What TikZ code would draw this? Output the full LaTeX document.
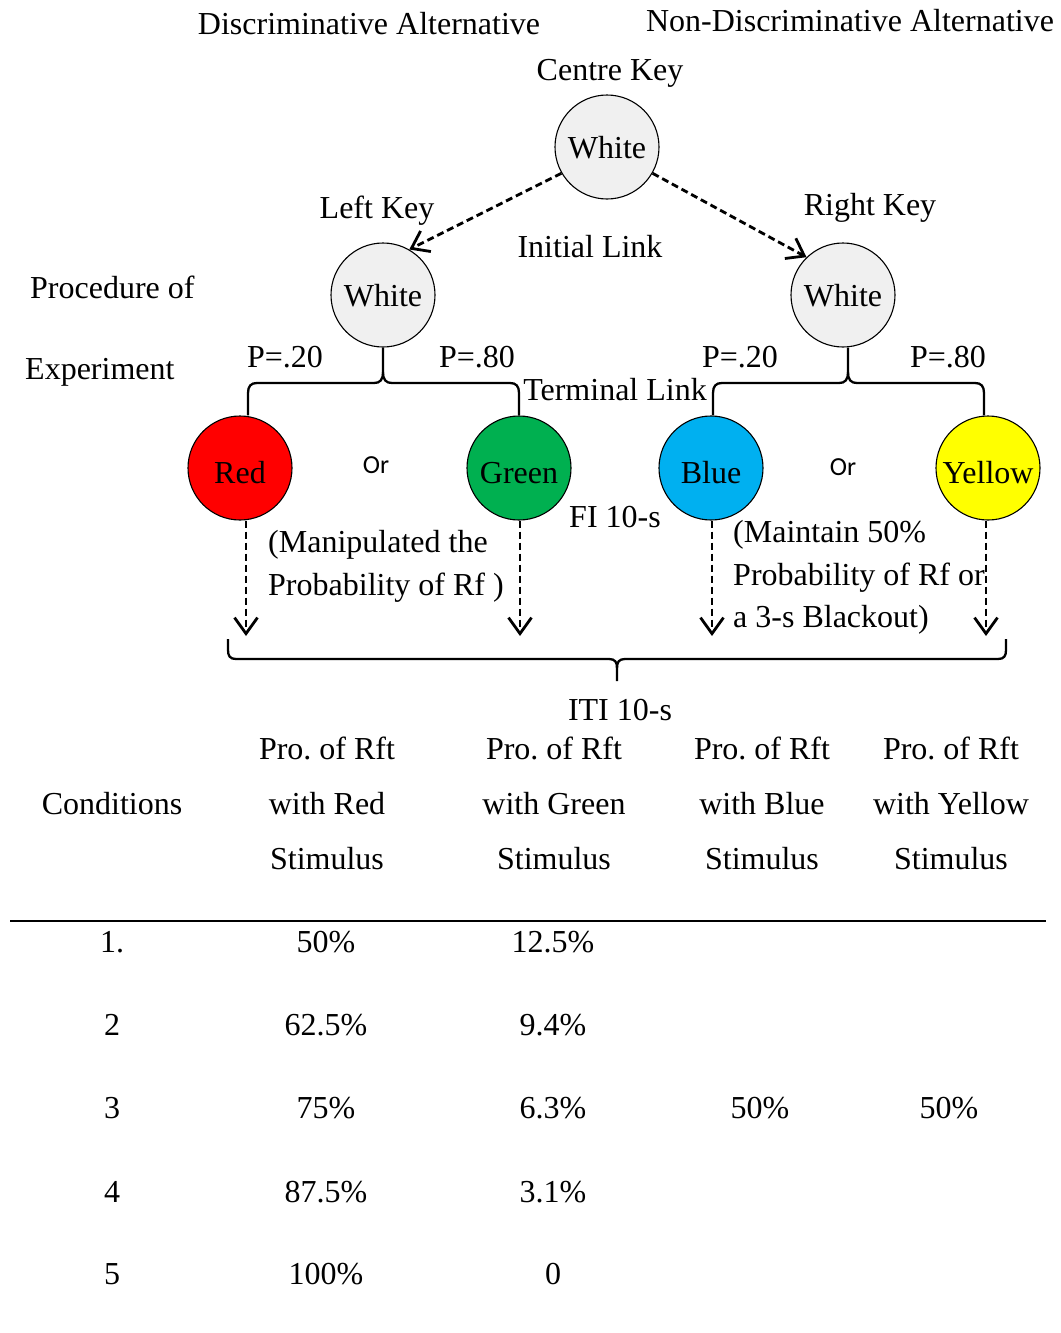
\documentclass[tikz,border=0pt]{standalone}
\usepackage{fontspec}
\setmainfont{Liberation Serif}
\newfontfamily\orfont{Carlito}
\usetikzlibrary{arrows.meta}
\definecolor{keygray}{HTML}{F0F0F0}
\definecolor{kred}{HTML}{FF0000}
\definecolor{kgreen}{HTML}{00B050}
\definecolor{kblue}{HTML}{00B0F0}
\definecolor{kyellow}{HTML}{FFFF00}
\frenchspacing
\begin{document}
\begin{tikzpicture}[x=1pt,y=-1pt,
  every node/.style={font=\fontsize{32}{38}\selectfont},
  lbl/.style={inner sep=0pt, anchor=base},
  lblw/.style={inner sep=0pt, anchor=base west},
  orlbl/.style={inner sep=0pt, anchor=base, font=\orfont\fontsize{26}{30}\selectfont},
  whitekey/.style={circle, draw, line width=1.1pt, fill=keygray, minimum size=104pt, inner sep=0pt, text height=23pt, text depth=0pt},
  colkey/.style={circle, draw, line width=1.1pt, minimum size=104pt, inner sep=0pt, text height=30pt, text depth=0pt},
  dasharrow/.style={line width=2.8pt, dash pattern=on 7pt off 4pt, -{Straight Barb[length=16pt,width=23pt,line width=2.8pt]}},
  bracel/.style={line width=2.3pt}
]
\useasboundingbox (0,0) rectangle (1060,1333);

% headings
\node[lbl] (hdisc) at (369,34) {Discriminative Alternative};
\node[lbl] (hnon) at (850,31) {Non-Discriminative Alternative};
\node[lbl] (hcentre) at (610,80) {Centre Key};
\node[lbl] (hleft) at (377,218) {Left Key};
\node[lbl] (hright) at (870,215) {Right Key};
\node[lbl] (hinit) at (590,257) {Initial Link};
\node[lblw] (hproc) at (30,298) {Procedure of};
\node[lblw] (hexp) at (25,379) {Experiment};
\node[lbl] (p1) at (285,367) {P=.20};
\node[lbl] (p2) at (477,367) {P=.80};
\node[lbl] (p3) at (740,367) {P=.20};
\node[lbl] (p4) at (948,367) {P=.80};
\node[lbl] (hterm) at (615,400) {Terminal Link};
\node[lbl] (hfi) at (615,527) {FI 10-s};
\node[orlbl] (or1) at (376,473) {Or};
\node[orlbl] (or2) at (843,475) {Or};

% keys
\node[whitekey] (cw) at (607,147) {White};
\node[whitekey] (lw) at (383,295) {White};
\node[whitekey] (rw) at (843,295) {White};
\node[colkey, fill=kred] (red) at (240,468) {Red};
\node[colkey, fill=kgreen] (green) at (519,468) {Green};
\node[colkey, fill=kblue] (blue) at (711,468) {Blue};
\node[colkey, fill=kyellow] (yellow) at (988,468) {Yellow};

% initial link arrows
\draw[dasharrow] (cw.210) -- (lw.60);
\draw[dasharrow] (cw.330) -- (rw.134);

% terminal link braces
\draw[bracel] (lw.south) -- (383,372) .. controls (383,380) and (380,383) .. (374,383)
  -- (257,383) .. controls (251,383) and (248,386) .. (248,393) -- (248,0 |- red.north);
\draw[bracel] (383,372) .. controls (383,380) and (386,383) .. (392,383)
  -- (510,383) .. controls (516,383) and (519,386) .. (519,393) -- (green.north);
\draw[bracel] (848,0 |- rw.south) -- (848,372) .. controls (848,380) and (845,383) .. (839,383)
  -- (722,383) .. controls (716,383) and (713,386) .. (713,393) -- (713,0 |- blue.north);
\draw[bracel] (848,372) .. controls (848,380) and (851,383) .. (857,383)
  -- (975,383) .. controls (981,383) and (984,386) .. (984,393) -- (984,0 |- yellow.north);

% notes
\node[lblw] (nm1) at (268,552) {(Manipulated the};
\node[lblw] (nm2) at (268,595) {Probability of Rf )};
\node[lblw] (nn1) at (733,542) {(Maintain 50\%};
\node[lblw] (nn2) at (733,585) {Probability of Rf or};
\node[lblw] (nn3) at (733,627) {a 3-s Blackout)};

% outcome arrows
\coordinate (ared) at (246,636);
\coordinate (agreen) at (520,636);
\coordinate (ablue) at (712,636);
\coordinate (ayellow) at (986,636);
\draw[dasharrow] (ared |- red.south) -- (ared);
\draw[dasharrow] (agreen |- green.south) -- (agreen);
\draw[dasharrow] (ablue |- blue.south) -- (ablue);
\draw[dasharrow] (ayellow |- yellow.south) -- (ayellow);

% ITI brace
\coordinate (itip) at (617,681);
\draw[bracel] (228,639) -- (228,650) .. controls (228,656) and (230,659) .. (236,659)
  -- (609,659) .. controls (615,659) and (617,662) .. (617,668) -- (itip);
\draw[bracel] (617,668) .. controls (617,662) and (619,659) .. (625,659)
  -- (998,659) .. controls (1004,659) and (1006,656) .. (1006,650) -- (1006,639);
\node[lbl] (iti) at (620,720) {ITI 10-s};

% table header
\node[lbl] (cond) at (112,814) {Conditions};
\node[lbl] (c1a) at (327,759) {Pro. of Rft};
\node[lbl] (c1b) at (327,814) {with Red};
\node[lbl] (c1c) at (327,869) {Stimulus};
\node[lbl] (c2a) at (554,759) {Pro. of Rft};
\node[lbl] (c2b) at (554,814) {with Green};
\node[lbl] (c2c) at (554,869) {Stimulus};
\node[lbl] (c3a) at (762,759) {Pro. of Rft};
\node[lbl] (c3b) at (762,814) {with Blue};
\node[lbl] (c3c) at (762,869) {Stimulus};
\node[lbl] (c4a) at (951,759) {Pro. of Rft};
\node[lbl] (c4b) at (951,814) {with Yellow};
\node[lbl] (c4c) at (951,869) {Stimulus};

\draw[line width=2.2pt] (10,921) -- (1046,921);

% rows
\node[lbl] (r1a) at (112,952) {1.};
\node[lbl] (r1b) at (326,952) {50\%};
\node[lbl] (r1c) at (553,952) {12.5\%};
\node[lbl] (r2a) at (112,1035) {2};
\node[lbl] (r2b) at (326,1035) {62.5\%};
\node[lbl] (r2c) at (553,1035) {9.4\%};
\node[lbl] (r3a) at (112,1118) {3};
\node[lbl] (r3b) at (326,1118) {75\%};
\node[lbl] (r3c) at (553,1118) {6.3\%};
\node[lbl] (r3d) at (760,1118) {50\%};
\node[lbl] (r3e) at (949,1118) {50\%};
\node[lbl] (r4a) at (112,1202) {4};
\node[lbl] (r4b) at (326,1202) {87.5\%};
\node[lbl] (r4c) at (553,1202) {3.1\%};
\node[lbl] (r5a) at (112,1284) {5};
\node[lbl] (r5b) at (326,1284) {100\%};
\node[lbl] (r5c) at (553,1284) {0};
\end{tikzpicture}
\end{document}
